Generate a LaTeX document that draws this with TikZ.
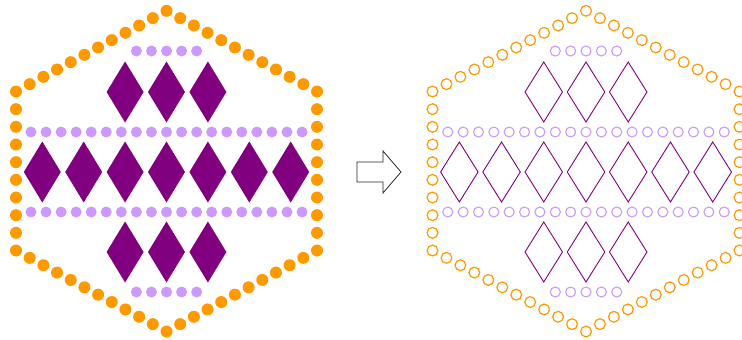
\documentclass[tikz,border=0pt]{standalone}
\usetikzlibrary{shapes.geometric,calc}
\definecolor{dotorange}{RGB}{255,153,0}
\definecolor{lilac}{RGB}{204,153,255}
\definecolor{plum}{RGB}{128,0,128}
\tikzset{
  hexdotL/.style={circle,fill=dotorange,minimum size=12pt,inner sep=0pt,outer sep=0pt},
  hexdotR/.style={circle,draw=dotorange,line width=1.2pt,minimum size=10.8pt,inner sep=0pt,outer sep=0pt},
  lildotL/.style={circle,fill=lilac,minimum size=11pt,inner sep=0pt,outer sep=0pt},
  lildotR/.style={circle,draw=lilac,line width=1.1pt,minimum size=10pt,inner sep=0pt,outer sep=0pt},
  diaL/.style={diamond,fill=plum,minimum width=37pt,minimum height=61pt,inner sep=0pt,outer sep=0pt},
  diaR/.style={diamond,draw=plum,line width=0.9pt,minimum width=37.5pt,minimum height=60pt,inner sep=0pt,outer sep=0pt},
  blockarrow/.style={draw=black!85,line width=0.8pt,fill=white}
}
\begin{document}
\begin{tikzpicture}[x=1pt,y=-1pt]
\useasboundingbox (0,0) rectangle (742,340);
\foreach \cx/\sx/\f/\hs/\ls/\ds in {166.5/1/L/hexdotL/lildotL/diaL, 586/1.02/R/hexdotR/lildotR/diaR}{
  \coordinate (\f-T) at (\cx,10.8);
  \coordinate (\f-UR) at (\cx+150.5*\sx,91.5);
  \coordinate (\f-LR) at (\cx+150.5*\sx,250.5);
  \coordinate (\f-B) at (\cx,331.5);
  \coordinate (\f-LL) at (\cx-150.5*\sx,250.5);
  \coordinate (\f-UL) at (\cx-150.5*\sx,91.5);
  \foreach \a/\b/\n/\e [count=\k] in {UL/T/11/10, T/UR/11/10, UR/LR/9/8, LR/B/11/10, B/LL/11/10, LL/UL/9/8}{
    \foreach \i in {0,...,\e}
      \node[\hs] (\f-h\k-\i) at ($(\f-\a)!\i/\n!(\f-\b)$) {};
  }
  \foreach \j in {-2,...,2}{
    \node[\ls] (\f-la\j) at (\cx+15.06*\sx*\j,51) {};
    \node[\ls] (\f-ld\j) at (\cx+15.06*\sx*\j,292) {};
  }
  \foreach \j in {-9,...,9}{
    \node[\ls] (\f-lb\j) at (\cx+15.06*\sx*\j,132) {};
    \node[\ls] (\f-lc\j) at (\cx+15.06*\sx*\j,212) {};
  }
  \foreach \j in {-1,0,1}{
    \node[\ds] (\f-da\j) at (\cx+41.4*\sx*\j,92) {};
    \node[\ds] (\f-dc\j) at (\cx+41.4*\sx*\j,252) {};
  }
  \foreach \j in {-3,...,3}{
    \node[\ds] (\f-db\j) at (\cx+41.4*\sx*\j,172) {};
  }
}
\draw[blockarrow] (357,162) -- (383,162) -- (383,151) -- (401,172) -- (383,193) -- (383,182) -- (357,182) -- cycle;
\end{tikzpicture}
\end{document}
